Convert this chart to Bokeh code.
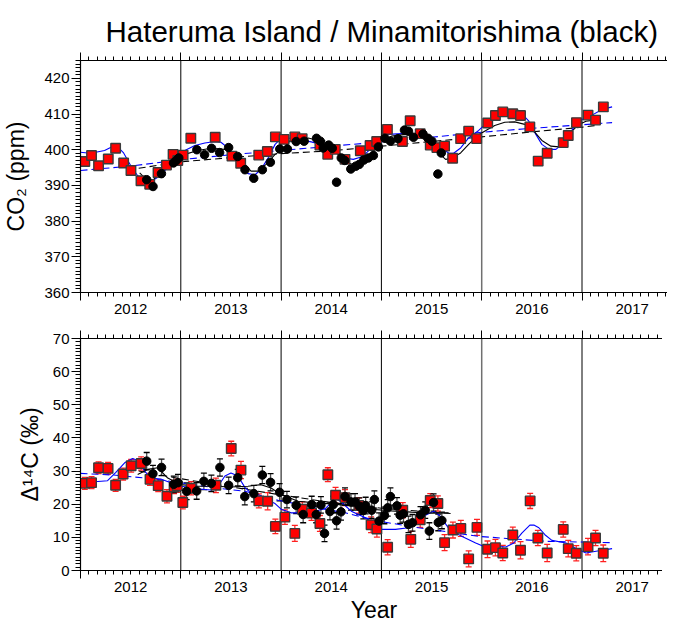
from bokeh.plotting import figure
from bokeh.layouts import column
from bokeh.models import LinearAxis, FixedTicker, Span, Whisker, TeeHead, ColumnDataSource, Range1d, Spacer
from bokeh.embed import file_html
from bokeh.resources import INLINE

FONT = "Liberation Sans"

# ---------------- data: CO2 ----------------
hat_co2_t = [2012.043, 2012.110, 2012.180, 2012.277, 2012.350, 2012.430, 2012.503, 2012.603, 2012.690, 2012.773,
             2012.857, 2012.923, 2012.970, 2013.023, 2013.100, 2013.343, 2013.510, 2013.597, 2013.777, 2013.863,
             2013.943, 2014.030, 2014.137, 2014.210, 2014.387, 2014.465, 2014.540, 2014.637, 2014.790, 2014.887,
             2014.953, 2015.060, 2015.210, 2015.287, 2015.387, 2015.487, 2015.553, 2015.630, 2015.710, 2015.790,
             2015.870, 2015.950, 2016.060, 2016.137, 2016.210, 2016.310, 2016.387, 2016.480, 2016.563, 2016.653,
             2016.813, 2016.863, 2016.945, 2017.060, 2017.135, 2017.213]
hat_co2 = [396.7, 398.4, 395.5, 397.4, 400.4, 396.3, 394.2, 391.3, 390.3, 393.6,
           395.7, 398.7, 397.0, 398.5, 403.2, 403.5, 398.2, 396.2, 398.5, 399.5,
           403.6, 402.9, 403.6, 403.1, 401.3, 398.7, 400.1, 397.3, 399.7, 401.2,
           402.3, 405.7, 402.3, 408.1, 404.5, 401.3, 400.6, 401.0, 397.6, 403.1,
           405.2, 403.1, 407.5, 409.6, 410.6, 410.1, 409.6, 406.4, 396.8, 399.0,
           402.0, 404.0, 407.6, 409.7, 408.3, 412.0]

min_co2_t = [2012.660, 2012.723, 2012.807, 2012.927, 2012.955, 2012.980, 2013.160, 2013.237, 2013.307, 2013.387,
             2013.477, 2013.567, 2013.640, 2013.727, 2013.813, 2013.893, 2013.987, 2014.063, 2014.150, 2014.230,
             2014.353, 2014.390, 2014.420, 2014.475, 2014.510, 2014.553, 2014.600, 2014.635, 2014.695, 2014.745,
             2014.780, 2014.825, 2014.870, 2014.920, 2014.970, 2015.035, 2015.090, 2015.165, 2015.230, 2015.270,
             2015.320, 2015.415, 2015.465, 2015.503, 2015.563, 2015.597]
min_co2 = [391.6, 389.7, 393.3, 396.3, 397.0, 397.7, 400.0, 398.6, 400.4, 399.2,
           400.6, 398.1, 394.4, 392.0, 394.4, 396.5, 400.2, 400.2, 402.3, 402.4,
           403.2, 402.4, 400.5, 401.3, 400.4, 390.9, 397.7, 397.0, 394.6, 395.4,
           395.9, 397.1, 397.7, 398.4, 400.8, 403.2, 402.4, 403.1, 405.5, 405.2,
           403.5, 404.4, 403.2, 402.4, 393.2, 399.1]

hat_co2_fit_t = [2012.00, 2012.07, 2012.14, 2012.24, 2012.32, 2012.37, 2012.43, 2012.50, 2012.57, 2012.65,
                 2012.70, 2012.77, 2012.87, 2012.97, 2013.04, 2013.14, 2013.24, 2013.34, 2013.40, 2013.47,
                 2013.54, 2013.60, 2013.67, 2013.74, 2013.80, 2013.87, 2013.94, 2014.00, 2014.07, 2014.17,
                 2014.30, 2014.40, 2014.50, 2014.59, 2014.65, 2014.72, 2014.79, 2014.85, 2014.94, 2014.99,
                 2015.07, 2015.20, 2015.30, 2015.40, 2015.50, 2015.60, 2015.67, 2015.72, 2015.79, 2015.87,
                 2015.97, 2016.07, 2016.17, 2016.30, 2016.40, 2016.47, 2016.54, 2016.60, 2016.67, 2016.74,
                 2016.80, 2016.87, 2016.94, 2017.00, 2017.10, 2017.20, 2017.30]
hat_co2_fit = [399.3, 399.1, 399.2, 399.8, 400.9, 400.8, 399.1, 395.6, 392.7, 391.2,
               391.0, 392.3, 394.9, 397.9, 399.8, 401.2, 401.9, 402.3, 402.1, 400.5,
               397.7, 394.9, 393.3, 393.0, 394.5, 397.7, 401.5, 403.2, 403.3, 402.9,
               402.2, 401.5, 400.1, 398.7, 397.6, 397.3, 397.9, 399.1, 401.5, 403.5,
               404.3, 404.5, 404.5, 403.8, 402.4, 400.4, 399.1, 399.0, 400.5, 403.3,
               405.4, 408.0, 410.1, 410.6, 410.1, 408.0, 404.3, 401.5, 400.1, 400.1,
               401.5, 404.3, 407.1, 408.5, 409.7, 411.3, 412.0]

min_co2_fit_t = [2012.59, 2012.69, 2012.80, 2012.94, 2013.04, 2013.17, 2013.30, 2013.44, 2013.54, 2013.64,
                 2013.70, 2013.77, 2013.85, 2013.94, 2014.02, 2014.10, 2014.27, 2014.37, 2014.47, 2014.55,
                 2014.64, 2014.70, 2014.79, 2014.85, 2014.94, 2015.00, 2015.10, 2015.24, 2015.37, 2015.47,
                 2015.57, 2015.64, 2015.70, 2015.79, 2015.87, 2015.97, 2016.05, 2016.13, 2016.23, 2016.33,
                 2016.43, 2016.52, 2016.60, 2016.69, 2016.77, 2016.84, 2016.90, 2016.97, 2017.04, 2017.12]
min_co2_fit = [393.5, 390.7, 393.5, 397.0, 398.7, 399.8, 400.4, 400.1, 398.7, 395.9,
               394.0, 394.0, 395.9, 398.7, 400.1, 402.9, 403.3, 402.6, 401.0, 399.1,
               396.8, 396.0, 396.3, 397.7, 400.1, 402.4, 403.8, 404.3, 403.8, 402.2,
               399.1, 397.3, 397.6, 399.1, 401.5, 404.2, 405.5, 406.8, 407.7, 407.8,
               407.1, 405.2, 402.6, 401.0, 400.8, 401.9, 405.2, 407.1, 408.0, 408.3]

hat_co2_trend_t = [2012.0, 2012.5, 2013.0, 2013.5, 2014.0, 2014.5, 2015.0, 2015.5, 2016.0, 2016.5, 2017.0, 2017.3]
hat_co2_trend = [394.2, 395.4, 397.2, 398.6, 399.8, 401.0, 402.2, 403.5, 404.9, 406.0, 407.0, 407.6]
min_co2_trend_t = [2012.58, 2013.0, 2013.5, 2014.0, 2014.5, 2015.0, 2015.5, 2016.0, 2016.5, 2017.0, 2017.14]
min_co2_trend = [394.8, 396.6, 397.8, 398.9, 399.7, 401.0, 402.3, 403.6, 405.0, 406.3, 406.8]

# ---------------- data: D14C ----------------
hat_c14_t = [2012.043, 2012.110, 2012.180, 2012.275, 2012.350, 2012.425, 2012.505, 2012.605, 2012.693, 2012.775,
             2012.862, 2012.933, 2012.965, 2013.020, 2013.103, 2013.350, 2013.503, 2013.600, 2013.778, 2013.866,
             2013.943, 2014.038, 2014.137, 2014.212, 2014.303, 2014.387, 2014.466, 2014.543, 2014.637, 2014.775,
             2014.897, 2014.955, 2015.062, 2015.213, 2015.293, 2015.387, 2015.487, 2015.563, 2015.630, 2015.713,
             2015.792, 2015.870, 2015.953, 2016.058, 2016.137, 2016.210, 2016.310, 2016.387, 2016.483, 2016.560,
             2016.653, 2016.813, 2016.863, 2016.943, 2017.060, 2017.135, 2017.212]
hat_c14 = [26.3, 26.5, 31.0, 30.8, 25.7, 29.1, 31.6, 32.3, 27.5, 25.6,
           22.4, 25.2, 25.6, 20.5, 24.8, 25.7, 36.8, 30.3, 21.0, 20.9,
           13.3, 16.1, 11.2, 18.5, 17.3, 14.2, 28.9, 22.7, 22.0, 19.6,
           13.8, 12.5, 7.0, 18.2, 9.4, 15.3, 21.1, 20.2, 8.4, 12.2,
           12.7, 3.5, 13.0, 6.4, 6.9, 5.3, 10.7, 6.1, 21.0, 9.8,
           5.3, 12.4, 6.6, 5.2, 7.2, 9.8, 5.2]
hat_c14_err = [1.8, 1.8, 1.8, 1.8, 1.8, 1.8, 1.9, 2.0, 1.8, 1.8,
               2.0, 2.0, 2.0, 1.9, 2.0, 2.2, 2.2, 2.6, 2.1, 2.6,
               2.2, 2.2, 2.4, 2.2, 2.2, 2.4, 2.1, 2.4, 2.4, 2.3,
               2.4, 2.4, 2.3, 2.3, 2.4, 2.3, 2.1, 2.3, 2.4, 2.4,
               2.4, 2.4, 2.4, 2.5, 2.5, 2.3, 2.4, 2.6, 2.3, 2.3,
               2.6, 2.3, 2.5, 2.3, 2.5, 2.3, 2.5]

min_c14_t = [2012.660, 2012.722, 2012.808, 2012.930, 2012.972, 2013.058, 2013.158, 2013.230, 2013.305, 2013.390,
             2013.477, 2013.568, 2013.638, 2013.728, 2013.813, 2013.895, 2013.985, 2014.058, 2014.150, 2014.220,
             2014.305, 2014.350, 2014.397, 2014.433, 2014.487, 2014.520, 2014.553, 2014.597, 2014.637, 2014.697,
             2014.737, 2014.780, 2014.820, 2014.843, 2014.903, 2014.930, 2014.977, 2015.030, 2015.063, 2015.090,
             2015.155, 2015.187, 2015.220, 2015.270, 2015.310, 2015.390, 2015.437, 2015.478, 2015.520, 2015.567,
             2015.603]
min_c14 = [33.0, 29.2, 31.1, 26.0, 26.5, 23.9, 24.0, 26.9, 26.3, 31.1,
           25.7, 28.0, 22.3, 23.2, 28.8, 26.6, 23.6, 21.4, 19.7, 16.9,
           19.9, 16.9, 19.8, 11.2, 17.8, 19.9, 15.0, 17.7, 22.3, 20.7,
           20.7, 19.4, 18.1, 19.6, 18.2, 21.4, 14.9, 16.6, 18.9, 22.3,
           19.5, 16.7, 17.1, 13.9, 14.4, 16.8, 18.2, 11.9, 20.5, 14.5,
           15.1]
min_c14_err = [2.6, 2.5, 2.5, 2.5, 2.5, 2.5, 2.5, 2.5, 2.5, 2.6,
               2.5, 2.5, 2.5, 2.5, 2.6, 2.6, 2.6, 2.5, 2.5, 2.5,
               2.5, 2.5, 2.5, 2.5, 2.5, 2.5, 2.5, 2.5, 2.6, 2.5,
               2.5, 2.5, 2.5, 2.5, 2.5, 2.6, 2.5, 2.5, 2.5, 2.6,
               2.5, 2.5, 2.5, 2.5, 2.5, 2.5, 2.5, 2.5, 2.6, 2.5,
               2.5]

hat_c14_fit_t = [2012.00, 2012.14, 2012.27, 2012.35, 2012.44, 2012.52, 2012.57, 2012.64, 2012.70, 2012.80,
                 2012.90, 2013.00, 2013.13, 2013.30, 2013.37, 2013.44, 2013.50, 2013.57, 2013.64, 2013.72,
                 2013.84, 2013.94, 2014.00, 2014.10, 2014.24, 2014.34, 2014.44, 2014.50, 2014.53, 2014.59,
                 2014.70, 2014.84, 2014.94, 2015.00, 2015.14, 2015.27, 2015.34, 2015.43, 2015.52, 2015.58,
                 2015.67, 2015.80, 2015.94, 2016.04, 2016.14, 2016.24, 2016.32, 2016.40, 2016.48, 2016.52,
                 2016.57, 2016.63, 2016.70, 2016.84, 2016.95, 2017.04, 2017.14, 2017.30]
hat_c14_fit = [26.8, 26.8, 27.1, 29.5, 32.5, 33.8, 33.2, 30.0, 27.9, 27.6,
               26.5, 25.5, 24.7, 24.3, 25.4, 28.5, 29.4, 28.5, 25.0, 22.8,
               21.6, 20.2, 18.5, 17.4, 17.4, 17.9, 18.7, 20.5, 22.0, 20.9,
               17.9, 15.9, 13.9, 12.4, 12.4, 12.9, 13.9, 16.5, 17.9, 16.6,
               12.8, 10.3, 8.3, 7.0, 7.3, 7.1, 8.3, 11.3, 13.7, 13.7,
               12.9, 10.8, 9.1, 8.3, 6.5, 5.3, 5.8, 6.6]

min_c14_fit_t = [2012.57, 2012.67, 2012.77, 2012.87, 2013.00, 2013.17, 2013.34, 2013.50, 2013.67, 2013.80,
                 2013.90, 2014.00, 2014.17, 2014.34, 2014.50, 2014.70, 2014.90, 2015.10, 2015.30, 2015.50,
                 2015.67]
min_c14_fit = [29.0, 30.5, 31.0, 27.9, 25.9, 25.4, 25.4, 25.2, 25.4, 25.9,
               24.9, 22.9, 20.9, 20.4, 20.1, 19.5, 18.5, 18.0, 17.6, 17.3,
               17.4]

hat_c14_trend_t = [2012.0, 2012.33, 2012.64, 2013.0, 2013.3, 2013.64, 2013.97, 2014.3, 2014.64, 2014.97,
                   2015.37, 2015.97, 2016.64, 2017.3]
hat_c14_trend = [29.3, 28.8, 27.9, 26.5, 25.1, 23.9, 21.2, 19.2, 17.4, 14.9,
                 12.9, 10.3, 8.8, 8.4]
min_c14_trend_t = [2012.58, 2013.0, 2013.5, 2014.0, 2014.5, 2015.0, 2015.5, 2015.7]
min_c14_trend = [30.0, 27.7, 25.2, 22.8, 20.5, 18.8, 17.6, 17.2]

# ---------------- axes / ticks ----------------
year_ticks = [2012, 2013, 2014, 2015, 2016, 2017, 2018]
year_label_pos = [2012.5, 2013.5, 2014.5, 2015.5, 2016.5, 2017.5]
year_labels = ["2012", "2013", "2014", "2015", "2016", "2017"]
boundary_lines = [2013, 2014, 2015, 2016, 2017]
co2_ticks = [360, 370, 380, 390, 400, 410, 420]
c14_ticks = [0, 10, 20, 30, 40, 50, 60, 70]

title_text = "Hateruma Island / Minamitorishima (black)"

month_ticks = [2012 + m / 12 for m in range(0, 72)]
X0, X1 = 2012.0, 2012.0 + 587 / 100.3


def base_fig(y0, y1, top, bottom):
    p = figure(frame_width=587, frame_height=232,
               x_range=Range1d(X0, X1), y_range=Range1d(y0, y1),
               output_backend="svg", toolbar_location=None,
               x_axis_location=None, y_axis_location=None,
               min_border_left=75, min_border_right=0,
               min_border_top=top, min_border_bottom=bottom)
    p.outline_line_color = None
    p.grid.visible = False
    p.background_fill_color = "white"
    p.border_fill_color = "white"
    return p


def tick_axis():
    return LinearAxis(ticker=FixedTicker(ticks=year_ticks, minor_ticks=month_ticks),
                      major_tick_out=8, major_tick_in=0, minor_tick_out=4, minor_tick_in=0,
                      major_label_text_font_size="0px", major_label_standoff=0,
                      major_label_overrides={t: "" for t in year_ticks},
                      axis_line_color="black", axis_line_width=1.2,
                      major_tick_line_color="black", minor_tick_line_color="black")


def add_x_axes(p, label=None):
    p.add_layout(tick_axis(), "below")
    a2 = LinearAxis(ticker=FixedTicker(ticks=year_label_pos, minor_ticks=[]),
                    major_tick_out=0, major_tick_in=0, minor_tick_out=0, minor_tick_in=0,
                    axis_line_color=None, major_tick_line_color=None, minor_tick_line_color=None,
                    major_label_overrides={t: s for t, s in zip(year_label_pos, year_labels)},
                    major_label_text_font=FONT, major_label_text_font_size="15px",
                    major_label_text_color="black", major_label_standoff=3)
    if label:
        a2.axis_label = label
        a2.axis_label_text_font = FONT
        a2.axis_label_text_font_size = "23px"
        a2.axis_label_text_font_style = "normal"
        a2.axis_label_text_color = "black"
        a2.axis_label_standoff = 2
    p.add_layout(a2, "below")
    p.add_layout(tick_axis(), "above")


def add_y_axis(p, ticks, lo, hi, label, standoff):
    ax = LinearAxis(ticker=FixedTicker(ticks=ticks, minor_ticks=list(range(lo, hi + 1))),
                    axis_label=label, axis_label_text_font=FONT, axis_label_text_font_size="23px",
                    axis_label_text_font_style="normal", axis_label_text_color="black",
                    axis_label_standoff=standoff,
                    major_label_text_font=FONT, major_label_text_font_size="15px",
                    major_label_text_color="black", major_label_standoff=2,
                    major_tick_out=9, major_tick_in=0, minor_tick_out=5, minor_tick_in=0,
                    axis_line_color="black", axis_line_width=1.2,
                    major_tick_line_color="black", minor_tick_line_color="black")
    p.add_layout(ax, "left")


def add_year_lines(p):
    for yr in boundary_lines:
        col = "#707070" if yr == 2016 else "black"
        p.add_layout(Span(location=yr, dimension="height", line_color=col,
                          line_width=1.5 if yr == 2016 else 1, level="underlay"))


SQ = dict(marker="square", size=9.5, fill_color="#ff0000", line_color="#3a3a3a", line_width=1.4)
CI = dict(marker="circle", size=8.5, fill_color="black", line_color="black")

# ---------------- top panel ----------------
p1 = base_fig(360, 425, 51, 29)
p1.title.text = title_text
p1.title.text_font = FONT
p1.title.text_font_size = "29.5px"
p1.title.text_font_style = "normal"
p1.title.text_color = "black"
p1.title.align = "left"
p1.title.offset = 25
p1.title.standoff = 10
add_x_axes(p1)
add_y_axis(p1, co2_ticks, 360, 425, "CO\u2082 (ppm)", 12)
add_year_lines(p1)

p1.line(hat_co2_trend_t, hat_co2_trend, line_color="blue", line_width=1.1, line_dash="7 4")
p1.line(min_co2_trend_t, min_co2_trend, line_color="black", line_width=1.1, line_dash="7 4")
p1.line(hat_co2_fit_t, hat_co2_fit, line_color="blue", line_width=1.1)
p1.line(min_co2_fit_t, min_co2_fit, line_color="black", line_width=1.1)
p1.scatter(hat_co2_t, hat_co2, **SQ)
p1.scatter(min_co2_t, min_co2, **CI)

# ---------------- bottom panel ----------------
p2 = base_fig(0, 70, 17, 43)
add_x_axes(p2, "Year")
add_y_axis(p2, c14_ticks, 0, 70, "\u0394\u00b9\u2074C (\u2030)", 7)
add_year_lines(p2)

src_h = ColumnDataSource(dict(x=hat_c14_t, y=hat_c14,
                              lo=[v - e for v, e in zip(hat_c14, hat_c14_err)],
                              hi=[v + e for v, e in zip(hat_c14, hat_c14_err)]))
src_m = ColumnDataSource(dict(x=min_c14_t, y=min_c14,
                              lo=[v - e for v, e in zip(min_c14, min_c14_err)],
                              hi=[v + e for v, e in zip(min_c14, min_c14_err)]))
wh = Whisker(source=src_h, base="x", lower="lo", upper="hi", dimension="height",
             line_color="#ff3030", line_width=1.3, level="underlay",
             upper_head=TeeHead(size=6, line_color="#ff2020", line_width=1.3),
             lower_head=TeeHead(size=6, line_color="#ff2020", line_width=1.3))
wm = Whisker(source=src_m, base="x", lower="lo", upper="hi", dimension="height",
             line_color="#505050", line_width=1.3, level="underlay",
             upper_head=TeeHead(size=6, line_color="black", line_width=1.3),
             lower_head=TeeHead(size=6, line_color="black", line_width=1.3))
p2.add_layout(wh)
p2.add_layout(wm)

p2.line(hat_c14_trend_t, hat_c14_trend, line_color="blue", line_width=1.1, line_dash="7 4")
p2.line(min_c14_trend_t, min_c14_trend, line_color="black", line_width=1.1, line_dash="7 4")
p2.line(hat_c14_fit_t, hat_c14_fit, line_color="blue", line_width=1.1)
p2.line(min_c14_fit_t, min_c14_fit, line_color="black", line_width=1.1)
p2.scatter("x", "y", source=src_h, **SQ)
p2.scatter("x", "y", source=src_m, **CI)

layout = column(Spacer(width=662, height=7), p1, p2)
open("out.html", "w").write(file_html(layout, INLINE))
